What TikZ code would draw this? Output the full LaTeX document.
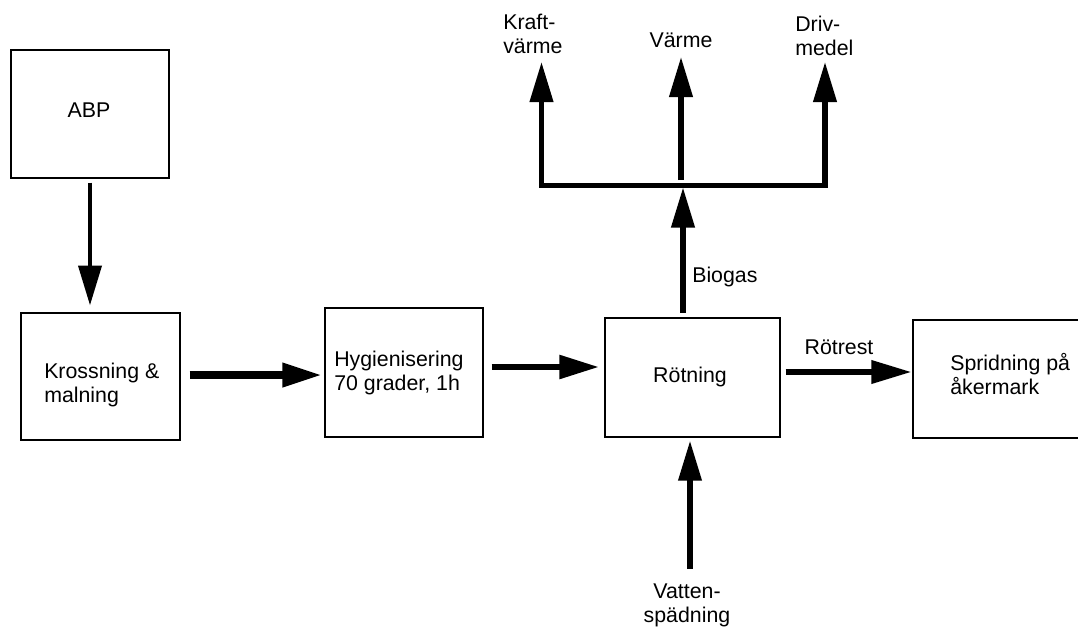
\documentclass[tikz,border=0pt]{standalone}
\usepackage{fontspec}
\setmainfont{Liberation Sans}
\usetikzlibrary{arrows.meta,calc}
\begin{document}
\begin{tikzpicture}[x=0.75pt,y=-0.75pt,
  box/.style={draw, line width=1.1pt, inner sep=0pt},
  txt/.style={font=\fontsize{16pt}{18pt}\selectfont, inner sep=0pt, align=left},
  flow/.style={line width=#1, line join=miter, -{Triangle[length=30pt,width=17pt]}},
  flow/.default=3.8pt]
\useasboundingbox (0,0) rectangle (1078,632);
% boxes
\node[box, minimum width=118.5pt, minimum height=96pt] (abp) at (90,114) {};
\node[box, minimum width=119.25pt, minimum height=95.25pt] (kross) at (100.5,376.5) {};
\node[box, minimum width=118.5pt, minimum height=96.75pt] (hyg) at (404,372.5) {};
\node[box, minimum width=131.25pt, minimum height=89.25pt] (rot) at (692.5,377.5) {};
\node[box, minimum width=135pt, minimum height=88.5pt] (spr) at (1003,379) {};
% box texts
\node[txt] (tabp) at (89,110) {ABP};
\node[txt, anchor=west] (tkross) at (44,385) {Krossning \&\\malning};
\node[txt, anchor=west] (thyg) at (334,373) {Hygienisering\\70 grader, 1h};
\node[txt] (trot) at (690,377) {Rötning};
\node[txt, anchor=west] (tspr) at (950,374) {Spridning på\\åkermark};
% outer labels
\node[txt, anchor=west] (kraft) at (503,34) {Kraft-\\värme};
\node[txt] (varme) at (681,40) {Värme};
\node[txt, anchor=west] (driv) at (795,36) {Driv-\\medel};
\node[txt, align=center] (vatten) at (687,605) {Vatten-\\spädning};
\node[txt, anchor=west] (biogas) at (692,277) {Biogas};
\node[txt] (rotrest) at (839,347) {Rötrest};
% junction coordinates
\coordinate (jk) at (541.5,185.5);
\coordinate (jm) at (683,185.5);
\coordinate (jd) at (825,185.5);
% connectors
\draw[flow=3.6pt, shorten <=3pt, shorten >=5pt] (abp.south) -- (abp.south |- kross.north);
\draw[flow=6pt, shorten <=6.75pt, shorten >=1.5pt] ($(kross.east)+(0,-1.5)$) -- ($(kross.east -| hyg.west)+(0,-1.5)$);
\draw[flow=5pt, shorten <=6pt, shorten >=3.75pt] ($(hyg.east)+(0,-5.5)$) -- ($(hyg.east -| rot.west)+(0,-5.5)$);
\draw[flow=3.8pt, shorten <=3.75pt, shorten >=0.75pt] ($(rot.east)+(0,-5.5)$) -- ($(rot.east -| spr.west)+(0,-5.5)$);
\draw[flow=3.8pt, shorten <=11pt, shorten >=2.25pt] (vatten.north -| 690,0) -- (rot.south -| 690,0);
\draw[flow=3.8pt, shorten <=3.5pt, shorten >=1.5pt] (rot.north -| jm) -- (jm);
\draw[line width=3.8pt, line join=miter, {Triangle[length=30pt,width=17pt]}-{Triangle[length=30pt,width=17pt]}]
  (jk |- 0,62) -- (jk) -- (jd) -- (jd |- 0,62);
\draw[flow=3.8pt] (681,180) -- (681,57);
\end{tikzpicture}
\end{document}
